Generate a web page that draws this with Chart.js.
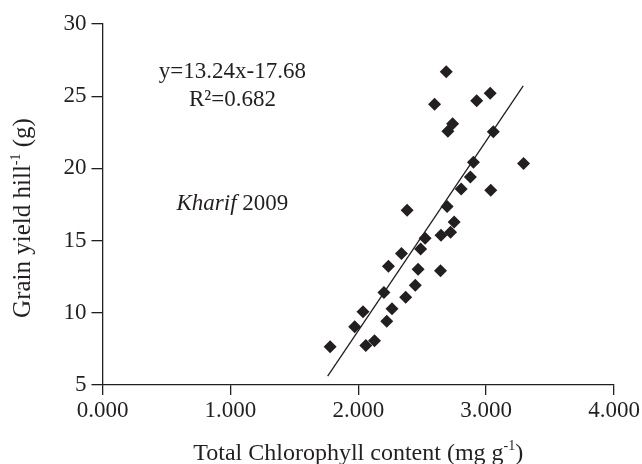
<!DOCTYPE html>
<html>
<head>
<meta http-equiv="Content-Type" content="text/html;charset=utf-8" />
<script src="https://cdn.jsdelivr.net/npm/chart.js@4.4.0/dist/chart.umd.min.js"></script>
<style>
  body { margin: 0; background: #fff; }
  #wrap { width: 642px; height: 464px; }
</style>
</head>
<body>
<div id="wrap"><canvas id="chl"></canvas></div>
<script type="text/javascript">
// chlorophyll (mg g-1) vs grain yield (g hill-1)
var chlX = [2.688, 2.597, 2.926, 3.032, 2.738, 2.701, 3.056, 2.901, 3.293, 2.877, 2.805,
            3.036, 2.382, 2.695, 2.750, 2.722, 2.647, 2.523, 2.488, 2.338, 2.236, 2.468,
            2.643, 2.446, 2.371, 2.201, 2.264, 2.037, 2.223, 1.972, 1.780, 2.059, 2.127];
var yieldY = [26.70, 24.44, 24.69, 25.20, 23.10, 22.57, 22.54, 20.42, 20.34, 19.40, 18.57,
              18.49, 17.10, 17.37, 16.29, 15.58, 15.37, 15.17, 14.42, 14.11, 13.23, 13.01,
              12.91, 11.90, 11.07, 11.41, 10.28, 10.07, 9.42, 9.03, 7.65, 7.74, 8.07];
// ends of the fitted line
var fitX = [1.761, 3.290];
var fitY = [5.62, 25.71];

var xTicks = [0, 1, 2, 3, 4];
var yTicks = [5, 10, 15, 20, 25, 30];

var ink = '#231f20';
var serif = '"Liberation Serif", "Times New Roman", serif';

var pts = [];
for (var i = 0; i < chlX.length; i++) pts.push({x: chlX[i], y: yieldY[i]});
var fit = [];
for (var j = 0; j < fitX.length; j++) fit.push({x: fitX[j], y: fitY[j]});

// draws a line of text made of pieces (normal / italic / superscript), centred on cx,cy
function richText(ctx, parts, cx, cy, rot) {
    ctx.save();
    ctx.translate(cx, cy);
    if (rot) ctx.rotate(rot);
    var total = 0;
    parts.forEach(function (p) { ctx.font = p.font; p.w = ctx.measureText(p.t).width; total += p.w; });
    var x = -total / 2;
    ctx.textAlign = 'left';
    ctx.textBaseline = 'alphabetic';
    ctx.fillStyle = ink;
    parts.forEach(function (p) {
        ctx.font = p.font;
        ctx.fillText(p.t, x, 8 + (p.dy || 0));
        x += p.w;
    });
    ctx.restore();
}

var textPlugin = {
    id: 'texts',
    afterDraw: function (chart) {
        var ctx = chart.ctx;
        var xs = chart.scales.x, ys = chart.scales.y;
        var big = '23px ' + serif, it = 'italic 23px ' + serif;

        richText(ctx, [{t: 'y=13.24x-17.68', font: big}], xs.getPixelForValue(1.016), ys.getPixelForValue(26.81));
        richText(ctx, [{t: 'R\u00b2=0.682', font: big}], xs.getPixelForValue(1.016), ys.getPixelForValue(24.88));
        richText(ctx, [{t: 'Kharif', font: it}, {t: ' 2009', font: big}], xs.getPixelForValue(1.016), ys.getPixelForValue(17.67));

        // axis titles
        richText(ctx, [{t: 'Total Chlorophyll content (mg g', font: '24px ' + serif},
                       {t: '-1', font: '14px ' + serif, dy: -10},
                       {t: ')', font: '24px ' + serif}],
                 (chart.chartArea.left + chart.chartArea.right) / 2, 452);
        richText(ctx, [{t: 'Grain yield hill', font: '25px ' + serif},
                       {t: '-1', font: '14px ' + serif, dy: -10},
                       {t: ' (g)', font: '25px ' + serif}],
                 22, 218, -Math.PI / 2);
    }
};

var chart = new Chart(document.getElementById('chl').getContext('2d'), {
    type: 'scatter',
    data: {
        datasets: [{
            label: 'yield',
            data: pts,
            pointStyle: 'rectRot',
            pointRadius: 6.5,
            pointBackgroundColor: ink,
            pointBorderColor: ink,
            pointBorderWidth: 0
        }, {
            label: 'fit',
            data: fit,
            showLine: true,
            pointRadius: 0,
            borderColor: ink,
            borderWidth: 1.3,
            fill: false
        }]
    },
    plugins: [textPlugin],
    options: {
        responsive: true,
        maintainAspectRatio: false,
        devicePixelRatio: 1,
        animation: false,
        layout: { padding: { top: 24, right: 28, left: 0, bottom: 0 } },
        plugins: { legend: { display: false }, tooltip: { enabled: false } },
        scales: {
            x: {
                type: 'linear', min: 0, max: 4,
                afterBuildTicks: function (s) { s.ticks = xTicks.map(function (v) { return {value: v}; }); },
                afterFit: function (s) { s.height = 79; },
                ticks: {
                    color: ink, padding: 2,
                    font: { family: serif, size: 23 },
                    maxRotation: 0,
                    callback: function (v) { return Number(v).toFixed(3); }
                },
                grid: { display: true, drawOnChartArea: false, drawTicks: true, tickLength: 10, color: ink, lineWidth: 1.3 },
                border: { display: true, color: ink, width: 1.3 }
            },
            y: {
                type: 'linear', min: 5, max: 30,
                afterBuildTicks: function (s) { s.ticks = yTicks.map(function (v) { return {value: v}; }); },
                afterFit: function (s) { s.width = 102.5; },
                ticks: {
                    color: ink, padding: 5,
                    font: { family: serif, size: 23 }
                },
                grid: { display: true, drawOnChartArea: false, drawTicks: true, tickLength: 11, color: ink, lineWidth: 1.3 },
                border: { display: true, color: ink, width: 1.3 }
            }
        }
    }
});
</script>
</body>
</html>
